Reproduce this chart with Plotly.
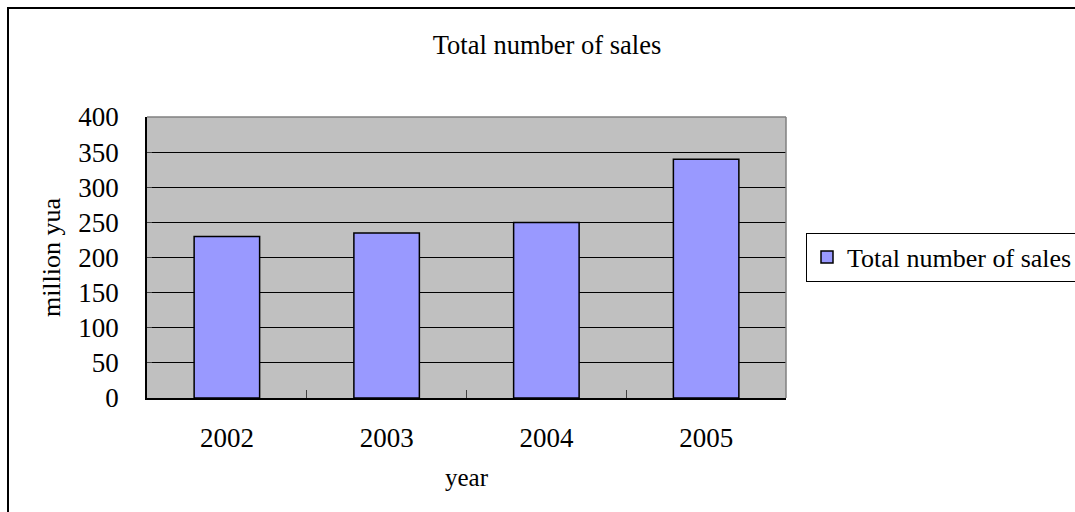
import plotly.graph_objects as go

years = ["2002", "2003", "2004", "2005"]
sales = [230, 235, 250, 340]
y_ticks = [0, 50, 100, 150, 200, 250, 300, 350, 400]

W, H = 1075, 512
ML, MR, MT, MB = 147, 289, 117, 114
pw = W - ML - MR
ph = H - MT - MB

def px_x(p):
    return (p - ML) / pw

def px_y(p):
    return (H - MB - p) / ph

FONT = "Liberation Serif"

fig = go.Figure()
fig.add_trace(go.Bar(
    x=years, y=sales, name="Total number of sales",
    marker=dict(color="#9999FF", line=dict(color="black", width=1.5)),
))

fig.update_layout(
    width=W, height=H,
    margin=dict(l=ML, r=MR, t=MT, b=MB),
    paper_bgcolor="white", plot_bgcolor="#C0C0C0",
    bargap=0.59,
    font=dict(family=FONT, color="black", size=24),
    title=dict(text="Total number of sales", x=547 / W, xref="container", xanchor="center",
               y=1 - 45 / H, yref="container", yanchor="middle",
               font=dict(family=FONT, size=26.5, color="black")),
    showlegend=True,
    legend=dict(x=806 / W, xref="container", xanchor="left",
                y=1 - 257 / H, yref="container", yanchor="middle",
                bgcolor="white", bordercolor="black", borderwidth=1,
                itemwidth=30,
                font=dict(family=FONT, size=26, color="black")),
    xaxis=dict(
        showgrid=False, showline=True, linecolor="black", linewidth=1.5,
        ticks="inside", tickson="boundaries", ticklen=8, tickcolor="#404040",
        tickfont=dict(family=FONT, size=27, color="black"),
        ticklabelstandoff=15,
        title=dict(text="year", font=dict(family=FONT, size=25, color="black"), standoff=16),
    ),
    yaxis=dict(
        range=[0, 400], tickvals=y_ticks, ticktext=[str(v) for v in y_ticks],
        showgrid=True, gridcolor="black", gridwidth=1,
        showline=True, linecolor="black", linewidth=1.5,
        ticks="inside", ticklen=5, tickcolor="#404040",
        tickfont=dict(family=FONT, size=27, color="black"),
        ticklabelstandoff=21,
        title=dict(text="million yua", font=dict(family=FONT, size=26, color="black"), standoff=10),
        zeroline=False,
    ),
)

# plot area top/right border (grey)
fig.add_shape(type="line", xref="paper", yref="paper", x0=0, x1=1, y0=1, y1=1,
              line=dict(color="#808080", width=1.5))
fig.add_shape(type="line", xref="paper", yref="paper", x0=1, x1=1, y0=0, y1=1,
              line=dict(color="#808080", width=1.5))
# outer chart border
fig.add_shape(type="rect", xref="paper", yref="paper",
              x0=px_x(8), x1=px_x(W + 10), y0=px_y(H + 10), y1=px_y(8),
              line=dict(color="black", width=2), layer="above")

fig.write_html("out.html")
